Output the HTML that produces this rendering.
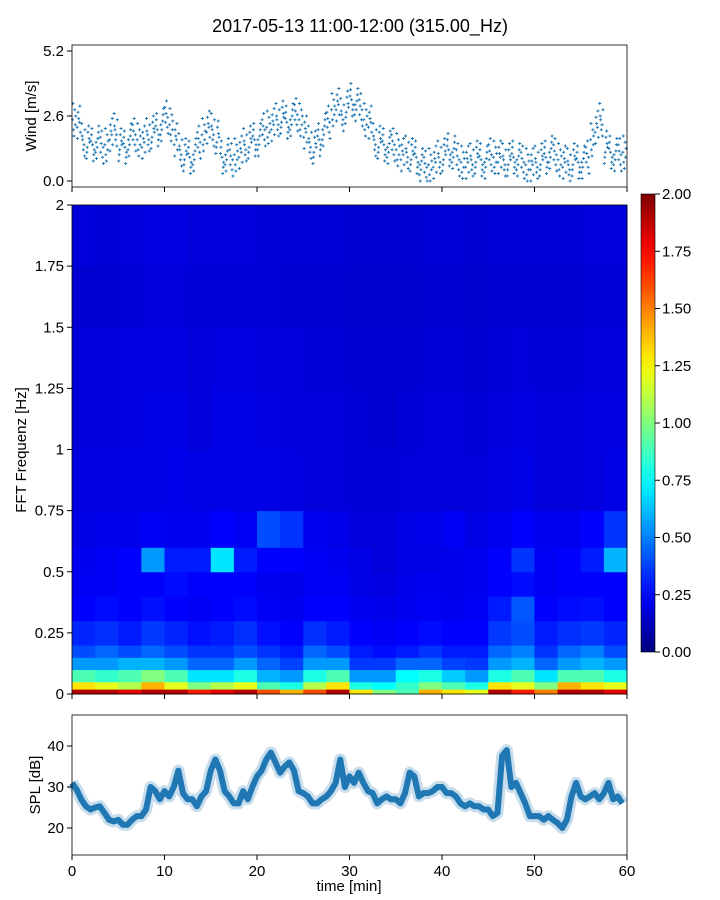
<!DOCTYPE html>
<html><head><meta charset="utf-8">
<style>
body{margin:0;background:#fff;}
svg{font-family:"Liberation Sans","DejaVu Sans",sans-serif;display:block}
</style></head>
<body>
<svg id="c" width="720" height="900" viewBox="0 0 720 900" xmlns="http://www.w3.org/2000/svg">
<text x="360" y="32" font-size="18" text-anchor="middle">2017-05-13 11:00-12:00 (315.00_Hz)</text>
<g id="wind"></g>
<g id="spec"></g>
<g id="cbar"></g>
<g id="spl"></g>
<text x="349" y="891" font-size="15" text-anchor="middle">time [min]</text>
<text transform="translate(36,116) rotate(-90)" font-size="15" text-anchor="middle">Wind [m/s]</text>
<text transform="translate(26,450) rotate(-90)" font-size="15" text-anchor="middle">FFT Frequenz [Hz]</text>
<text transform="translate(40,785) rotate(-90)" font-size="15" text-anchor="middle">SPL [dB]</text>
</svg>
<script>
// wind mean per 0.5 min
const windValues=[2.4,2.3,1.6,1.5,1.4,1.5,1.3,1.4,1.8,2.0,1.4,1.3,1.6,1.8,1.6,1.5,1.8,1.9,2.0,2.2,
2.5,2.2,1.6,1.2,1.0,0.9,1.0,1.5,1.8,2.1,2.0,1.7,0.9,1.0,0.8,1.0,1.1,1.4,1.5,1.6,
1.6,2.0,2.1,2.2,2.4,2.5,2.3,2.4,2.6,2.4,1.9,1.5,1.3,1.6,2.0,2.3,2.8,3.0,2.6,2.9,
3.2,3.0,2.8,2.4,2.3,1.6,1.5,1.4,1.3,1.4,1.2,1.0,1.1,1.0,0.9,0.6,0.5,0.6,0.7,0.9,
1.0,1.2,1.1,0.8,0.7,0.7,0.8,0.9,0.8,0.7,1.0,0.9,0.9,0.8,0.8,0.9,0.8,0.7,0.6,0.6,
0.7,0.8,0.9,1.1,1.0,0.8,0.7,0.6,0.8,0.7,0.7,0.9,1.6,2.1,2.4,1.3,1.1,1.0,1.0,1.1];
const windTicks=[0.0,2.6,5.2];
// SPL per 0.5 min
const splValues=[31,29.4,27,25.3,24.5,25,25.3,23.7,22,21.6,22,20.8,20.8,22,22.9,22.9,24.5,30,29,27,
29,27.7,30,34,28.5,27,27,25.3,27.7,29,34,36.7,34,29,27.7,26,26,29,27,30,
32.6,34,36.7,38.4,36,33.5,35,36,34,29,28.5,27.7,26,26,27,27.7,29,31,36.7,30,
32.6,31,33.5,31,29,28.5,26,27,27.7,27,27,26,28.5,33.5,32.6,27.7,28.5,28.5,29,30,
30,28.5,28.5,27.7,26,25.3,26,25.3,25.3,24.5,24.5,22.9,23.7,37.6,39,30,31,28.5,26,22.9,
22.9,22.9,22,22.9,22,21.2,20,22,27.7,31,27.7,27,27.7,28.5,27,28.5,31,27,27.7,26];
const splTicks=[20,30,40];
const xTicks=[0,10,20,30,40,50,60];
// spectrogram: frequency bin edges (Hz), matrix rows bottom-up, 24 time columns (2.5 min)
const freqEdges=[0,0.02,0.05,0.1,0.15,0.2,0.3,0.4,0.5,0.6,0.75,1.0,1.25,1.5,1.75,2.0];
const specRows=[
[1.9,1.9,1.8,1.9,1.9,1.7,1.8,1.9,1.6,1.4,1.6,1.9,1.3,1.0,0.9,1.4,1.3,1.2,1.9,1.7,1.5,1.9,1.9,1.8],
[1.3,1.2,1.1,1.4,1.2,1.0,1.1,1.2,0.9,0.8,1.1,1.3,0.8,0.75,0.85,1.0,0.9,0.8,1.3,1.2,1.0,1.4,1.3,1.2],
[0.9,0.85,0.9,1.0,0.9,0.7,0.7,0.8,0.6,0.55,0.8,0.9,0.55,0.55,0.75,0.8,0.65,0.55,0.8,0.9,0.7,0.9,0.9,0.8],
[0.55,0.55,0.6,0.6,0.55,0.45,0.45,0.55,0.45,0.38,0.55,0.55,0.36,0.36,0.45,0.45,0.38,0.36,0.55,0.6,0.45,0.55,0.6,0.55],
[0.4,0.45,0.4,0.45,0.4,0.35,0.35,0.4,0.35,0.3,0.45,0.4,0.3,0.27,0.3,0.35,0.3,0.3,0.45,0.5,0.35,0.45,0.5,0.4],
[0.32,0.34,0.3,0.36,0.32,0.28,0.3,0.34,0.28,0.25,0.34,0.3,0.25,0.23,0.25,0.27,0.25,0.25,0.36,0.4,0.3,0.34,0.36,0.32],
[0.25,0.27,0.25,0.28,0.25,0.23,0.25,0.27,0.23,0.22,0.25,0.25,0.22,0.21,0.22,0.23,0.22,0.23,0.3,0.42,0.25,0.27,0.28,0.25],
[0.23,0.23,0.25,0.25,0.27,0.25,0.25,0.25,0.22,0.21,0.23,0.23,0.2,0.19,0.21,0.22,0.21,0.22,0.25,0.27,0.23,0.25,0.25,0.25],
[0.22,0.23,0.25,0.55,0.3,0.3,0.7,0.3,0.25,0.25,0.23,0.22,0.2,0.18,0.2,0.2,0.21,0.22,0.25,0.35,0.23,0.25,0.3,0.6],
[0.2,0.21,0.21,0.23,0.22,0.22,0.25,0.23,0.4,0.35,0.22,0.21,0.18,0.18,0.2,0.21,0.23,0.2,0.22,0.25,0.22,0.22,0.25,0.35],
[0.19,0.19,0.2,0.2,0.21,0.2,0.2,0.2,0.2,0.19,0.18,0.18,0.17,0.17,0.18,0.18,0.18,0.18,0.19,0.2,0.18,0.18,0.19,0.2],
[0.18,0.18,0.19,0.2,0.2,0.18,0.2,0.2,0.19,0.18,0.18,0.18,0.17,0.16,0.17,0.18,0.18,0.17,0.18,0.19,0.18,0.18,0.19,0.19],
[0.18,0.18,0.19,0.19,0.19,0.18,0.19,0.19,0.18,0.18,0.17,0.17,0.16,0.16,0.16,0.17,0.17,0.16,0.17,0.18,0.17,0.17,0.18,0.18],
[0.16,0.16,0.17,0.18,0.18,0.17,0.17,0.17,0.17,0.16,0.16,0.16,0.15,0.15,0.15,0.16,0.16,0.15,0.16,0.16,0.16,0.16,0.17,0.17],
[0.18,0.17,0.18,0.19,0.19,0.18,0.18,0.18,0.17,0.17,0.17,0.17,0.16,0.16,0.16,0.17,0.17,0.16,0.17,0.17,0.17,0.17,0.18,0.18]];
const freqTicks=[0,0.25,0.5,0.75,1,1.25,1.5,1.75,2];
const freqTickLabels=["0","0.25","0.5","0.75","1","1.25","1.5","1.75","2"];
const cbarTicks=[0,0.25,0.5,0.75,1,1.25,1.5,1.75,2];
const cbarTickLabels=["0.00","0.25","0.50","0.75","1.00","1.25","1.50","1.75","2.00"];

const NS="http://www.w3.org/2000/svg";
function mk(p,t,a){const e=document.createElementNS(NS,t);for(const k in a)e.setAttribute(k,a[k]);p.appendChild(e);return e;}
const X0=72,X1=627;
const xS=v=>X0+(v/60)*(X1-X0);
function jet(v){const t=Math.max(0,Math.min(1,v/2));
 const f=x=>Math.max(0,Math.min(1,x));
 const r=f(1.5-Math.abs(4*t-3)),g=f(1.5-Math.abs(4*t-2)),b=f(1.5-Math.abs(4*t-1));
 return `rgb(${Math.round(r*255)},${Math.round(g*255)},${Math.round(b*255)})`;}

// ---- wind panel
const W=document.getElementById('wind');
const wY=v=>181-v*25;
const jit=[0.05,0.45,-0.35,0.2,-0.6,0.7,-0.15];
const jx=[0.05,0.3,0.15,0.4,0.22,0.1,0.35];
windValues.forEach((v,i)=>{
 jit.forEach((d,j)=>{
  const x=xS(i*0.5+jx[(j+i)%7]),y=wY(Math.max(0,v+d));
  const p=mk(W,'path',{d:`M${x-1.5},${y}h3M${x},${y-1.5}v3`,stroke:'#1f77b4','stroke-width':0.9});
  
  
 });
});
mk(W,'rect',{x:X0,y:45,width:X1-X0,height:142,fill:'none',stroke:'#000','stroke-width':0.8});
windTicks.forEach(t=>{const y=wY(t);mk(W,'line',{x1:X0-5,x2:X0,y1:y,y2:y,stroke:'#000'});
 const tx=mk(W,'text',{x:X0-8,y:y+5,'font-size':15,'text-anchor':'end'});tx.textContent=t.toFixed(1);
 
 });
xTicks.forEach(t=>mk(W,'line',{x1:xS(t),x2:xS(t),y1:187,y2:192,stroke:'#000'}));

// ---- spectrogram
const S=document.getElementById('spec');
const fY=f=>694-(f/2)*489;
specRows.forEach((row,r)=>{
 row.forEach((v,c)=>{
  const x=xS(c*2.5),w=xS((c+1)*2.5)-x,y=fY(freqEdges[r+1]),h=fY(freqEdges[r])-y;
  const rc=mk(S,'rect',{x:x,y:y,width:w+0.5,height:h+0.5,fill:jet(v)});
  
  
 });
});
mk(S,'rect',{x:X0,y:205,width:X1-X0,height:489,fill:'none',stroke:'#000','stroke-width':0.8});
freqTicks.forEach((t,i)=>{const y=fY(t);mk(S,'line',{x1:X0-5,x2:X0,y1:y,y2:y,stroke:'#000'});
 const tx=mk(S,'text',{x:X0-8,y:y+5,'font-size':15,'text-anchor':'end'});tx.textContent=freqTickLabels[i];
 
 });
xTicks.forEach(t=>mk(S,'line',{x1:xS(t),x2:xS(t),y1:694,y2:699,stroke:'#000'}));

// ---- colorbar
const C=document.getElementById('cbar');
const defs=mk(C,'defs',{});const lg=mk(defs,'linearGradient',{id:'jg',x1:0,y1:1,x2:0,y2:0});
for(let i=0;i<=20;i++)mk(lg,'stop',{offset:i/20,'stop-color':jet(i/10)});
mk(C,'rect',{x:641,y:194,width:14,height:458,fill:'url(#jg)',stroke:'#000','stroke-width':0.6});
const cY=v=>652-(v/2)*458;
cbarTicks.forEach((t,i)=>{const y=cY(t);mk(C,'line',{x1:655,x2:660,y1:y,y2:y,stroke:'#000'});
 const tx=mk(C,'text',{x:662,y:y+5,'font-size':15});tx.textContent=cbarTickLabels[i];
 
 });

// ---- SPL panel
const P=document.getElementById('spl');
const sY=v=>828-(v-20)*4.1;
const pts=splValues.map((v,i)=>`${xS(i*0.5)},${sY(v)}`).join(' ');
const band=mk(P,'polyline',{points:pts,fill:'none',stroke:'#1f77b4','stroke-opacity':0.25,'stroke-width':12,'stroke-linejoin':'round'});


const ln=mk(P,'polyline',{points:pts,fill:'none',stroke:'#1f77b4','stroke-width':6,'stroke-linejoin':'round'});


mk(P,'rect',{x:X0,y:715,width:X1-X0,height:140,fill:'none',stroke:'#000','stroke-width':0.8});
splTicks.forEach(t=>{const y=sY(t);mk(P,'line',{x1:X0-5,x2:X0,y1:y,y2:y,stroke:'#000'});
 const tx=mk(P,'text',{x:X0-8,y:y+5,'font-size':15,'text-anchor':'end'});tx.textContent=t;
 
 });
xTicks.forEach(t=>{mk(P,'line',{x1:xS(t),x2:xS(t),y1:855,y2:860,stroke:'#000'});
 const tx=mk(P,'text',{x:xS(t),y:876,'font-size':15,'text-anchor':'middle'});tx.textContent=t;
 
 });
</script>
</body></html>
